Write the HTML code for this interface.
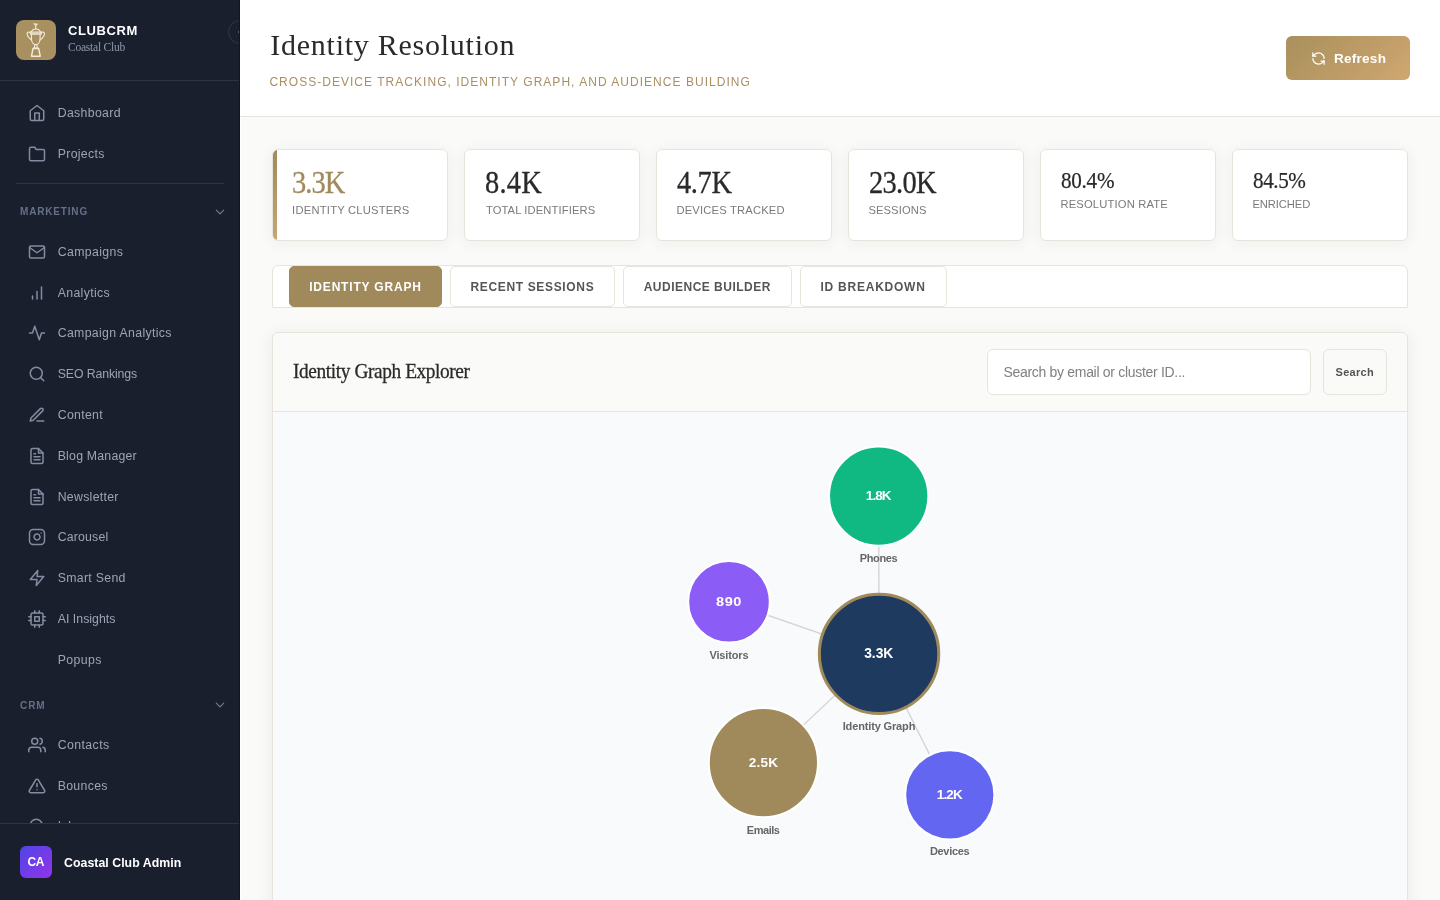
<!DOCTYPE html>
<html lang="en">
<head>
<meta charset="utf-8">
<title>Identity Resolution - ClubCRM</title>
<style>
*{box-sizing:border-box;margin:0;padding:0}
html,body{width:1440px;height:900px;overflow:hidden}
body{font-family:"Liberation Sans",sans-serif;background:#fafaf8;color:#2a2a2a;position:relative}
.t{position:absolute;white-space:pre;z-index:5}
#sb{position:absolute;left:0;top:0;width:240px;height:900px;background:#1a1f2e;overflow:hidden;border-right:1px solid #0e1526}
#wl{position:absolute;left:240px;top:117px;width:1px;height:783px;background:#fff}
#sb .hd{position:absolute;left:0;top:0;width:240px;height:81px;border-bottom:1px solid #2d3448}
#logo{position:absolute;left:16px;top:20px;width:40px;height:40px;border-radius:8px;background:#a89060}
#collapse{position:absolute;left:228px;top:20px;width:24px;height:24px;border-radius:50%;border:1px solid #2f3750;background:#1a1f2e}
.ni{position:absolute;left:28px;width:18px;height:18px;fill:none;stroke:#838ca0;stroke-width:2;stroke-linecap:round;stroke-linejoin:round}
.chev{position:absolute;left:215px;width:10px;height:10px;fill:none;stroke:#727b90;stroke-width:1.2;stroke-linecap:round;stroke-linejoin:round}
#sbdiv{position:absolute;left:16px;top:183px;width:208px;height:1px;background:#2d3448}
#sbft{z-index:6;position:absolute;left:0;top:823px;width:240px;height:77px;background:#1a1f2e;border-top:1px solid #2d3448}
#ava{position:absolute;left:20px;top:22px;width:32px;height:32px;border-radius:6px;background:linear-gradient(135deg,#4f46e5,#9333ea)}
#top{position:absolute;left:240px;top:0;width:1200px;height:117px;background:#fff;border-bottom:1px solid #e8e4dc}
#refresh{position:absolute;left:1286px;top:36px;width:124px;height:44px;border-radius:6px;background:linear-gradient(135deg,#a8905c,#d0a670)}
#refresh svg{position:absolute;left:24.5px;top:14.5px;width:15px;height:15px;fill:none;stroke:#fff;stroke-width:2;stroke-linecap:round;stroke-linejoin:round}
.st{position:absolute;top:149px;width:176px;height:92px;background:#fff;border:1px solid #e8e4dc;border-radius:6px;box-shadow:0 2px 16px rgba(0,0,0,.055)}
.st.act{overflow:hidden}
.st.act:before{content:"";position:absolute;left:0;top:0;width:4px;height:90px;background:linear-gradient(180deg,#a08a5c,#c4a870)}
#tabs{position:absolute;left:272px;top:265px;width:1136px;height:43px;background:#fff;border:1px solid #e8e4dc;border-radius:6px 6px 0 0}
.tab{position:absolute;top:266px;height:41px;border:1px solid #e8e4dc;border-radius:5px;background:#fff}
.tab.on{top:266px;height:41px;background:#a08a5c;border-color:#a08a5c}
#card{position:absolute;left:272px;top:332px;width:1136px;height:600px;background:#f8fafc;border:1px solid #e8e4dc;border-radius:6px;box-shadow:0 2px 18px rgba(0,0,0,.07);overflow:hidden}
#chd{position:absolute;left:0;top:0;width:1134px;height:79px;background:#fafaf8;border-bottom:1px solid #e8e4dc}
#sinput{position:absolute;left:987px;top:349px;width:324px;height:46px;background:#fff;border:1px solid #e8e4dc;border-radius:6px}
#sbtn{position:absolute;left:1323px;top:349px;width:64px;height:46px;background:#fafaf8;border:1px solid #e8e4dc;border-radius:6px}
#graph{position:absolute;left:0;top:0;width:1440px;height:900px}
.t.f{z-index:7}
</style>
</head>
<body>
<div id="top"></div><div id="wl"></div>
<div class="t" style="left:270.30px;top:28px;font-size:30px;line-height:33px;color:#2a2a2a;letter-spacing:0.743px;font-family:'Liberation Serif',serif;">Identity Resolution</div>
<div class="t" style="left:269.40px;top:75px;font-size:12px;line-height:14px;color:#a89060;letter-spacing:1.03px;">CROSS-DEVICE TRACKING, IDENTITY GRAPH, AND AUDIENCE BUILDING</div>
<div id="refresh"><svg viewBox="0 0 24 24"><path d="M21 12a9 9 0 0 0-9-9 9.750 9.750 0 0 0-6.740 2.740L3 8"/><path d="M3 3v5h5"/><path d="M3 12a9 9 0 0 0 9 9 9.750 9.750 0 0 0 6.740-2.740L21 16"/><path d="M16 16h5v5"/></svg></div>
<div class="t" style="left:1333.90px;top:51px;font-size:13.6px;line-height:15px;color:#fff;letter-spacing:0.246px;font-weight:700;">Refresh</div>
<div class="st act" style="left:272px"></div>
<div class="st " style="left:464px"></div>
<div class="st " style="left:656px"></div>
<div class="st " style="left:848px"></div>
<div class="st sm" style="left:1040px"></div>
<div class="st sm" style="left:1232px"></div>
<div class="t" style="left:292.30px;top:165px;font-size:31.6px;line-height:35px;color:#a08a5c;letter-spacing:-0.993px;font-family:'Liberation Serif',serif;transform:scaleX(0.9);transform-origin:0 0;-webkit-text-stroke:0.3px;">3.3K</div>
<div class="t" style="left:292.10px;top:204px;font-size:11.2px;line-height:12px;color:#7a7a7a;letter-spacing:0.227px;">IDENTITY CLUSTERS</div>
<div class="t" style="left:484.80px;top:165px;font-size:31.6px;line-height:35px;color:#2a2a2a;letter-spacing:0.303px;font-family:'Liberation Serif',serif;transform:scaleX(0.9);transform-origin:0 0;-webkit-text-stroke:0.3px;">8.4K</div>
<div class="t" style="left:485.90px;top:204px;font-size:11.2px;line-height:12px;color:#7a7a7a;letter-spacing:0.122px;">TOTAL IDENTIFIERS</div>
<div class="t" style="left:676.65px;top:165px;font-size:31.6px;line-height:35px;color:#2a2a2a;letter-spacing:-0.4px;font-family:'Liberation Serif',serif;transform:scaleX(0.9);transform-origin:0 0;-webkit-text-stroke:0.3px;">4.7K</div>
<div class="t" style="left:676.45px;top:204px;font-size:11.2px;line-height:12px;color:#7a7a7a;letter-spacing:0.187px;">DEVICES TRACKED</div>
<div class="t" style="left:869.40px;top:165px;font-size:31.6px;line-height:35px;color:#2a2a2a;letter-spacing:-0.777px;font-family:'Liberation Serif',serif;transform:scaleX(0.9);transform-origin:0 0;-webkit-text-stroke:0.3px;">23.0K</div>
<div class="t" style="left:868.40px;top:204px;font-size:11.2px;line-height:12px;color:#7a7a7a;letter-spacing:0.114px;">SESSIONS</div>
<div class="t" style="left:1060.75px;top:167px;font-size:24px;line-height:26px;color:#2a2a2a;letter-spacing:-0.301px;font-family:'Liberation Serif',serif;transform:scaleX(0.88);transform-origin:0 0;-webkit-text-stroke:0.25px;">80.4%</div>
<div class="t" style="left:1060.45px;top:198px;font-size:11.2px;line-height:12px;color:#7a7a7a;letter-spacing:0.172px;">RESOLUTION RATE</div>
<div class="t" style="left:1252.75px;top:167px;font-size:24px;line-height:26px;color:#2a2a2a;letter-spacing:-0.472px;font-family:'Liberation Serif',serif;transform:scaleX(0.88);transform-origin:0 0;-webkit-text-stroke:0.25px;">84.5%</div>
<div class="t" style="left:1252.45px;top:198px;font-size:11.2px;line-height:12px;color:#7a7a7a;letter-spacing:-0.077px;">ENRICHED</div>
<div id="tabs"></div>
<div class="tab on" style="left:289px;width:153px"></div>
<div class="tab" style="left:450px;width:165px"></div>
<div class="tab" style="left:623px;width:169px"></div>
<div class="tab" style="left:800px;width:147px"></div>
<div class="t" style="left:309.20px;top:280px;font-size:12px;line-height:14px;color:#fff;letter-spacing:0.813px;font-weight:700;">IDENTITY GRAPH</div>
<div class="t" style="left:470.45px;top:280px;font-size:12px;line-height:14px;color:#555;letter-spacing:0.655px;font-weight:700;">RECENT SESSIONS</div>
<div class="t" style="left:643.70px;top:280px;font-size:12px;line-height:14px;color:#555;letter-spacing:0.49px;font-weight:700;">AUDIENCE BUILDER</div>
<div class="t" style="left:820.45px;top:280px;font-size:12px;line-height:14px;color:#555;letter-spacing:0.768px;font-weight:700;">ID BREAKDOWN</div>
<div id="card"><div id="chd"></div></div><div id="sinput"></div><div id="sbtn"></div>
<div class="t" style="left:293.40px;top:359px;font-size:21px;line-height:24px;color:#2a2a2a;letter-spacing:-0.427px;font-family:'Liberation Serif',serif;transform:scaleX(0.92);transform-origin:0 0;-webkit-text-stroke:0.3px;">Identity Graph Explorer</div>
<div class="t" style="left:1003.40px;top:364px;font-size:14px;line-height:16px;color:#808080;letter-spacing:-0.303px;">Search by email or cluster ID...</div>
<div class="t" style="left:1335.60px;top:366px;font-size:11px;line-height:12px;color:#555;letter-spacing:0.279px;font-weight:700;">Search</div>
<svg id="graph" width="1440" height="900" viewBox="0 0 1440 900">
<line x1="879.05" y1="653.85" x2="878.7" y2="496.05" stroke="#d2d2d2" stroke-width="1.3"/>
<line x1="879.05" y1="653.85" x2="729" y2="601.75" stroke="#d2d2d2" stroke-width="1.3"/>
<line x1="879.05" y1="653.85" x2="763.4" y2="762.65" stroke="#d2d2d2" stroke-width="1.3"/>
<line x1="879.05" y1="653.85" x2="949.8" y2="794.8" stroke="#d2d2d2" stroke-width="1.3"/>
<circle cx="878.7" cy="496.05" r="49.65" fill="#10b981" stroke="#fff" stroke-width="2"/>
<circle cx="729" cy="601.75" r="40.80" fill="#8b5cf6" stroke="#fff" stroke-width="2"/>
<circle cx="763.4" cy="762.65" r="54.60" fill="#a08a5c" stroke="#fff" stroke-width="2"/>
<circle cx="949.8" cy="794.8" r="44.60" fill="#6366f1" stroke="#fff" stroke-width="2"/>
<circle cx="879.05" cy="653.85" r="59.70" fill="#1e3a5f" stroke="#a08a5c" stroke-width="3"/>
</svg>
<div class="t" style="left:865.85px;top:488px;font-size:13.5px;line-height:15px;color:#fff;letter-spacing:-0.944px;font-weight:700;">1.8K</div>
<div class="t" style="left:859.65px;top:552px;font-size:11px;line-height:12px;color:#666;letter-spacing:-0.327px;font-weight:700;">Phones</div>
<div class="t" style="left:716.30px;top:594px;font-size:13.5px;line-height:15px;color:#fff;letter-spacing:0.494px;font-weight:700;transform:scaleX(1.08);transform-origin:0 0;">890</div>
<div class="t" style="left:709.50px;top:649px;font-size:11px;line-height:12px;color:#666;letter-spacing:-0.165px;font-weight:700;">Visitors</div>
<div class="t" style="left:748.80px;top:755px;font-size:13.5px;line-height:15px;color:#fff;letter-spacing:0.223px;font-weight:700;">2.5K</div>
<div class="t" style="left:746.85px;top:824px;font-size:11px;line-height:12px;color:#666;letter-spacing:-0.474px;font-weight:700;">Emails</div>
<div class="t" style="left:936.80px;top:787px;font-size:13.5px;line-height:15px;color:#fff;letter-spacing:-0.844px;font-weight:700;">1.2K</div>
<div class="t" style="left:929.90px;top:845px;font-size:11px;line-height:12px;color:#666;letter-spacing:-0.299px;font-weight:700;">Devices</div>
<div class="t" style="left:864.25px;top:646px;font-size:13.8px;line-height:15px;color:#fff;letter-spacing:-0.052px;font-weight:700;">3.3K</div>
<div class="t" style="left:842.70px;top:720px;font-size:11px;line-height:12px;color:#666;letter-spacing:-0.143px;font-weight:700;">Identity Graph</div>
<div id="sb"><div class="hd"></div><div id="logo"><svg width="40" height="40" viewBox="0 0 40 40" fill="none" stroke="#f3ead8" stroke-width="1.1" stroke-linecap="round" stroke-linejoin="round"><path d="M18.2 3.700c.6-.5 1.300-.2 1.500.6.500-.8 1.400-.9 1.900-.2-.5.900-1.300 1.300-1.900 1.600-.7-.4-1.300-1-1.500-2z" fill="#f3ead8" stroke-width=".6"/><path d="M19.700 5.600v3.200"/><path d="M14.800 12c1-1.600 2.900-2.900 5-3.200 2.100.3 4 1.600 5 3.200"/><path d="M14.400 12h10.800v2.100h-10.800z" fill="#f3ead8" fill-opacity=".55"/><path d="M15.500 14.200v4.600c0 3.300 1.800 5.800 4.300 5.800s4.300-2.500 4.300-5.800v-4.600"/><path d="M14.400 12.800c-1.200-1.300-3.300-.9-3.300 1 0 2.300 2.200 4.500 4.500 6.300"/><path d="M25.200 12.800c1.200-1.300 3.300-.9 3.300 1 0 2.300-2.200 4.500-4.500 6.300"/><path d="M18.800 24.800l-.5 3.200M20.800 24.800l.5 3.200"/><path d="M17 28.600h5.700l1.500 7.600h-8.700z" stroke-width="1.500"/><path d="M17.600 28.200h4.500" stroke-width="1.300"/></svg></div>
<div id="collapse"><svg width="22" height="22" viewBox="0 0 22 22" fill="none" stroke="#6f788d" stroke-width="1.5" stroke-linecap="round" stroke-linejoin="round"><polyline points="13.300 7.500 9.800 11 13.300 14.500"/></svg></div>
<div class="t" style="left:68.00px;top:23px;font-size:13px;line-height:15px;color:#fff;letter-spacing:0.589px;font-weight:700;">CLUBCRM</div>
<div class="t" style="left:68.00px;top:41px;font-size:11.5px;line-height:12px;color:#8f97a8;letter-spacing:-0.232px;font-family:'Liberation Serif',serif;">Coastal Club</div>
<svg class="ni" style="top:104.00px" viewBox="0 0 24 24"><path d="M3 9l9-7 9 7v11a2 2 0 0 1-2 2H5a2 2 0 0 1-2-2z"/><polyline points="9 22 9 12 15 12 15 22"/></svg>
<svg class="ni" style="top:144.80px" viewBox="0 0 24 24"><path d="M22 19a2 2 0 0 1-2 2H4a2 2 0 0 1-2-2V5a2 2 0 0 1 2-2h5l2 3h9a2 2 0 0 1 2 2z"/></svg>
<svg class="ni" style="top:242.75px" viewBox="0 0 24 24"><path d="M4 4h16c1.1 0 2 .9 2 2v12c0 1.1-.9 2-2 2H4c-1.1 0-2-.9-2-2V6c0-1.1.9-2 2-2z"/><polyline points="22,6 12,13 2,6"/></svg>
<svg class="ni" style="top:283.55px" viewBox="0 0 24 24"><line x1="12" y1="20" x2="12" y2="10"/><line x1="18" y1="20" x2="18" y2="4"/><line x1="6" y1="20" x2="6" y2="16"/></svg>
<svg class="ni" style="top:324.35px" viewBox="0 0 24 24"><polyline points="22 12 18 12 15 21 9 3 6 12 2 12"/></svg>
<svg class="ni" style="top:365.15px" viewBox="0 0 24 24"><circle cx="11" cy="11" r="8"/><line x1="21" y1="21" x2="16.65" y2="16.65"/></svg>
<svg class="ni" style="top:405.95px" viewBox="0 0 24 24"><path d="M12 20h9"/><path d="M16.5 3.5a2.121 2.121 0 0 1 3 3L7 19l-4 1 1-4L16.5 3.5z"/></svg>
<svg class="ni" style="top:446.75px" viewBox="0 0 24 24"><path d="M14 2H6a2 2 0 0 0-2 2v16a2 2 0 0 0 2 2h12a2 2 0 0 0 2-2V8z"/><polyline points="14 2 14 8 20 8"/><line x1="16" y1="13" x2="8" y2="13"/><line x1="16" y1="17" x2="8" y2="17"/><polyline points="10 9 9 9 8 9"/></svg>
<svg class="ni" style="top:487.55px" viewBox="0 0 24 24"><path d="M14 2H6a2 2 0 0 0-2 2v16a2 2 0 0 0 2 2h12a2 2 0 0 0 2-2V8z"/><polyline points="14 2 14 8 20 8"/><line x1="16" y1="13" x2="8" y2="13"/><line x1="16" y1="17" x2="8" y2="17"/><polyline points="10 9 9 9 8 9"/></svg>
<svg class="ni" style="top:528.35px" viewBox="0 0 24 24"><rect x="2" y="2" width="20" height="20" rx="5" ry="5"/><path d="M16 11.37A4 4 0 1 1 12.63 8 4 4 0 0 1 16 11.37z"/><line x1="17.5" y1="6.5" x2="17.51" y2="6.5"/></svg>
<svg class="ni" style="top:569.15px" viewBox="0 0 24 24"><polygon points="13 2 3 14 12 14 11 22 21 10 12 10 13 2"/></svg>
<svg class="ni" style="top:609.95px" viewBox="0 0 24 24"><rect x="4" y="4" width="16" height="16" rx="2" ry="2"/><rect x="9" y="9" width="6" height="6"/><line x1="9" y1="1" x2="9" y2="4"/><line x1="15" y1="1" x2="15" y2="4"/><line x1="9" y1="20" x2="9" y2="23"/><line x1="15" y1="20" x2="15" y2="23"/><line x1="20" y1="9" x2="23" y2="9"/><line x1="20" y1="14" x2="23" y2="14"/><line x1="1" y1="9" x2="4" y2="9"/><line x1="1" y1="14" x2="4" y2="14"/></svg>
<svg class="ni" style="top:735.70px" viewBox="0 0 24 24"><path d="M17 21v-2a4 4 0 0 0-4-4H5a4 4 0 0 0-4 4v2"/><circle cx="9" cy="7" r="4"/><path d="M23 21v-2a4 4 0 0 0-3-3.870"/><path d="M16 3.130a4 4 0 0 1 0 7.750"/></svg>
<svg class="ni" style="top:776.50px" viewBox="0 0 24 24"><path d="M10.29 3.860L1.820 18a2 2 0 0 0 1.710 3h16.940a2 2 0 0 0 1.710-3L13.710 3.860a2 2 0 0 0-3.420 0z"/><line x1="12" y1="9" x2="12" y2="13"/><line x1="12" y1="17" x2="12.010" y2="17"/></svg>
<svg class="ni" style="top:817.30px" viewBox="0 0 24 24"><circle cx="11" cy="11" r="8"/><line x1="21" y1="21" x2="16.65" y2="16.65"/></svg>
<div class="t" style="left:57.70px;top:106px;font-size:12.3px;line-height:14px;color:#9ca4b5;letter-spacing:0.341px;">Dashboard</div>
<div class="t" style="left:57.70px;top:147px;font-size:12.3px;line-height:14px;color:#9ca4b5;letter-spacing:0.325px;">Projects</div>
<div class="t" style="left:57.70px;top:245px;font-size:12.3px;line-height:14px;color:#9ca4b5;letter-spacing:0.375px;">Campaigns</div>
<div class="t" style="left:57.70px;top:286px;font-size:12.3px;line-height:14px;color:#9ca4b5;letter-spacing:0.348px;">Analytics</div>
<div class="t" style="left:57.70px;top:326px;font-size:12.3px;line-height:14px;color:#9ca4b5;letter-spacing:0.338px;">Campaign Analytics</div>
<div class="t" style="left:57.70px;top:367px;font-size:12.3px;line-height:14px;color:#9ca4b5;letter-spacing:-0.105px;">SEO Rankings</div>
<div class="t" style="left:57.70px;top:408px;font-size:12.3px;line-height:14px;color:#9ca4b5;letter-spacing:0.32px;">Content</div>
<div class="t" style="left:57.70px;top:449px;font-size:12.3px;line-height:14px;color:#9ca4b5;letter-spacing:0.222px;">Blog Manager</div>
<div class="t" style="left:57.70px;top:490px;font-size:12.3px;line-height:14px;color:#9ca4b5;letter-spacing:0.295px;">Newsletter</div>
<div class="t" style="left:57.70px;top:530px;font-size:12.3px;line-height:14px;color:#9ca4b5;letter-spacing:0.183px;">Carousel</div>
<div class="t" style="left:57.70px;top:571px;font-size:12.3px;line-height:14px;color:#9ca4b5;letter-spacing:0.312px;">Smart Send</div>
<div class="t" style="left:57.70px;top:612px;font-size:12.3px;line-height:14px;color:#9ca4b5;letter-spacing:0.033px;">AI Insights</div>
<div class="t" style="left:57.70px;top:653px;font-size:12.3px;line-height:14px;color:#9ca4b5;letter-spacing:0.406px;">Popups</div>
<div class="t" style="left:57.70px;top:738px;font-size:12.3px;line-height:14px;color:#9ca4b5;letter-spacing:0.424px;">Contacts</div>
<div class="t" style="left:57.70px;top:779px;font-size:12.3px;line-height:14px;color:#9ca4b5;letter-spacing:0.315px;">Bounces</div>
<div class="t" style="left:57.70px;top:819px;font-size:12.3px;line-height:14px;color:#9ca4b5;letter-spacing:0.102px;">Inbox</div>
<div id="sbdiv"></div>
<div class="t" style="left:20.00px;top:206px;font-size:10px;line-height:11px;color:#667086;letter-spacing:0.83px;font-weight:700;">MARKETING</div>
<div class="t" style="left:20.00px;top:700px;font-size:10px;line-height:11px;color:#667086;letter-spacing:0.95px;font-weight:700;">CRM</div>
<svg class="chev" style="top:207px" viewBox="0 0 10 10"><polyline points="1.300 3.200 5 6.900 8.700 3.200"/></svg>
<svg class="chev" style="top:700px" viewBox="0 0 10 10"><polyline points="1.300 3.200 5 6.900 8.700 3.200"/></svg>
<div id="sbft"><div id="ava"></div></div>
<div class="t f" style="left:27.60px;top:855px;font-size:12px;line-height:14px;color:#fff;letter-spacing:-0.544px;font-weight:700;">CA</div>
<div class="t f" style="left:64.00px;top:856px;font-size:12.3px;line-height:14px;color:#fff;letter-spacing:0.049px;font-weight:700;">Coastal Club Admin</div>
</div>
</body>
</html>
